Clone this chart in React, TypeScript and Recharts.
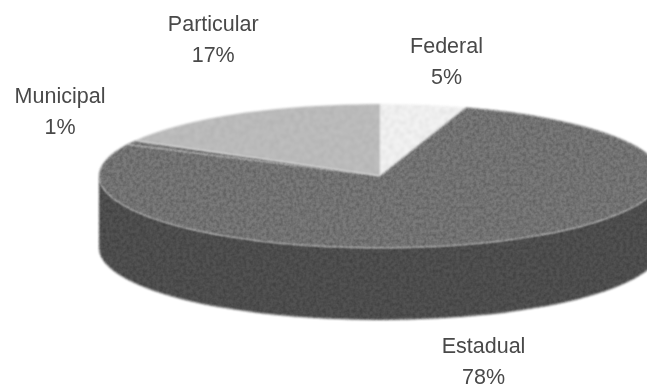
import React from "react";
import { PieChart, Pie, Cell } from "recharts";

const categories = ["Federal", "Estadual", "Municipal", "Particular"];
const shares = [5, 78, 1, 17];
const faceColors = ["#f3f3f3", "#7a7a7a", "#7a7a7a", "#bebebe"];
const wallColors = ["#d0d0d0", "#525252", "#525252", "#909090"];
const grainFilters = ["url(#grainLight)", "url(#grain)", "url(#grain)", "url(#grainLight)"];
// label centre offset from the slice's rim point, px
const labelOffsets = [
  [23, -52],
  [-7, 111],
  [-71, -40],
  [-25, -83],
];

const rows = categories.map((name, i) => ({ name, value: shares[i] }));

const W = 647;
const H = 388;
const CX = 380;
const CY = 176;
const RX = 281;
const SQUASH = 72 / 281;
const DEPTH = 72;
const FONT = "'Liberation Sans', Arial, sans-serif";

const rad = (d: number) => (d * Math.PI) / 180;
const pt = (cx: number, cy: number, rx: number, ry: number, a: number) => [
  cx + rx * Math.cos(rad(a)),
  cy - ry * Math.sin(rad(a)),
];

function FaceShape(p: any) {
  const ry = p.outerRadius * SQUASH;
  const [x1, y1] = pt(p.cx, p.cy, p.outerRadius, ry, p.startAngle);
  const [x2, y2] = pt(p.cx, p.cy, p.outerRadius, ry, p.endAngle);
  const large = Math.abs(p.startAngle - p.endAngle) > 180 ? 1 : 0;
  const sweep = p.startAngle > p.endAngle ? 1 : 0;
  const d = `M${p.cx},${p.cy}L${x1},${y1}A${p.outerRadius},${ry} 0 ${large} ${sweep} ${x2},${y2}Z`;
  return <path d={d} fill={p.fill} filter={grainFilters[p.index]} />;
}

function WallShape(p: any) {
  const hi = Math.min(Math.max(p.startAngle, p.endAngle), 0);
  const lo = Math.max(Math.min(p.startAngle, p.endAngle), -180);
  if (lo >= hi) return null;
  const ry = p.outerRadius * SQUASH;
  const [x1, y1] = pt(p.cx, p.cy, p.outerRadius, ry, hi);
  const [x2, y2] = pt(p.cx, p.cy, p.outerRadius, ry, lo);
  const d =
    `M${x1},${y1}A${p.outerRadius},${ry} 0 0 1 ${x2},${y2}` +
    `L${x2},${y2 + DEPTH}A${p.outerRadius},${ry} 0 0 0 ${x1},${y1 + DEPTH}Z`;
  return <path d={d} fill={p.fill} filter="url(#grain)" />;
}

function SliceLabel(p: any) {
  const ry = p.outerRadius * SQUASH;
  const [x, y] = pt(p.cx, p.cy, p.outerRadius, ry, p.midAngle);
  const [dx, dy] = labelOffsets[p.index];
  return (
    <text
      x={x + dx}
      textAnchor="middle"
      fontFamily={FONT}
      fontSize={21.5}
      fill="#484848"
      filter="url(#soft)"
    >
      <tspan x={x + dx} y={y + dy}>{p.name}</tspan>
      <tspan x={x + dx} y={y + dy + 31}>{`${p.value}%`}</tspan>
    </text>
  );
}

export default function App() {
  return (
    <div style={{ position: "absolute", left: 0, top: 0, width: W, height: H, overflow: "hidden", background: "#fff" }}>
      <svg width={0} height={0} style={{ position: "absolute" }}>
        <defs>
          <filter id="grain" x="-5%" y="-5%" width="110%" height="110%" colorInterpolationFilters="sRGB">
            <feTurbulence type="fractalNoise" baseFrequency="0.3" numOctaves={2} seed={4} result="n" />
            <feColorMatrix in="n" type="matrix" values="0 0 0 0 0  0 0 0 0 0  0 0 0 0 0  0.4 0 0 0 -0.13" result="speck" />
            <feGaussianBlur in="speck" stdDeviation="0.6" result="speckSoft" />
            <feGaussianBlur in="SourceGraphic" stdDeviation="0.8" result="soft" />
            <feComposite in="speckSoft" in2="soft" operator="in" result="inside" />
            <feMerge>
              <feMergeNode in="soft" />
              <feMergeNode in="inside" />
            </feMerge>
          </filter>
          <filter id="grainLight" x="-5%" y="-5%" width="110%" height="110%" colorInterpolationFilters="sRGB">
            <feTurbulence type="fractalNoise" baseFrequency="0.2" numOctaves={2} seed={9} result="n" />
            <feColorMatrix in="n" type="matrix" values="0 0 0 0 0  0 0 0 0 0  0 0 0 0 0  0.12 0 0 0 -0.04" result="speck" />
            <feGaussianBlur in="speck" stdDeviation="0.9" result="speckSoft" />
            <feGaussianBlur in="SourceGraphic" stdDeviation="0.8" result="soft" />
            <feComposite in="speckSoft" in2="soft" operator="in" result="inside" />
            <feMerge>
              <feMergeNode in="soft" />
              <feMergeNode in="inside" />
            </feMerge>
          </filter>
          <filter id="soft">
            <feGaussianBlur stdDeviation="0.45" />
          </filter>
        </defs>
      </svg>
      <PieChart width={W} height={H} margin={{ top: 0, right: 0, bottom: 0, left: 0 }} accessibilityLayer={false}>
        <Pie
          data={rows}
          dataKey="value"
          nameKey="name"
          cx={CX}
          cy={CY}
          innerRadius={0}
          outerRadius={RX}
          startAngle={90}
          endAngle={-270}
          stroke="none"
          paddingAngle={0}
          isAnimationActive={false}
          shape={WallShape}
          labelLine={false}
          legendType="none"
        >
          {rows.map((r, i) => (
            <Cell key={r.name} fill={wallColors[i]} />
          ))}
        </Pie>
        <Pie
          data={rows}
          dataKey="value"
          nameKey="name"
          cx={CX}
          cy={CY}
          innerRadius={0}
          outerRadius={RX}
          startAngle={90}
          endAngle={-270}
          stroke="none"
          paddingAngle={0}
          isAnimationActive={false}
          shape={FaceShape}
          label={SliceLabel}
          labelLine={false}
        >
          {rows.map((r, i) => (
            <Cell key={r.name} fill={faceColors[i]} />
          ))}
        </Pie>
      </PieChart>
    </div>
  );
}
